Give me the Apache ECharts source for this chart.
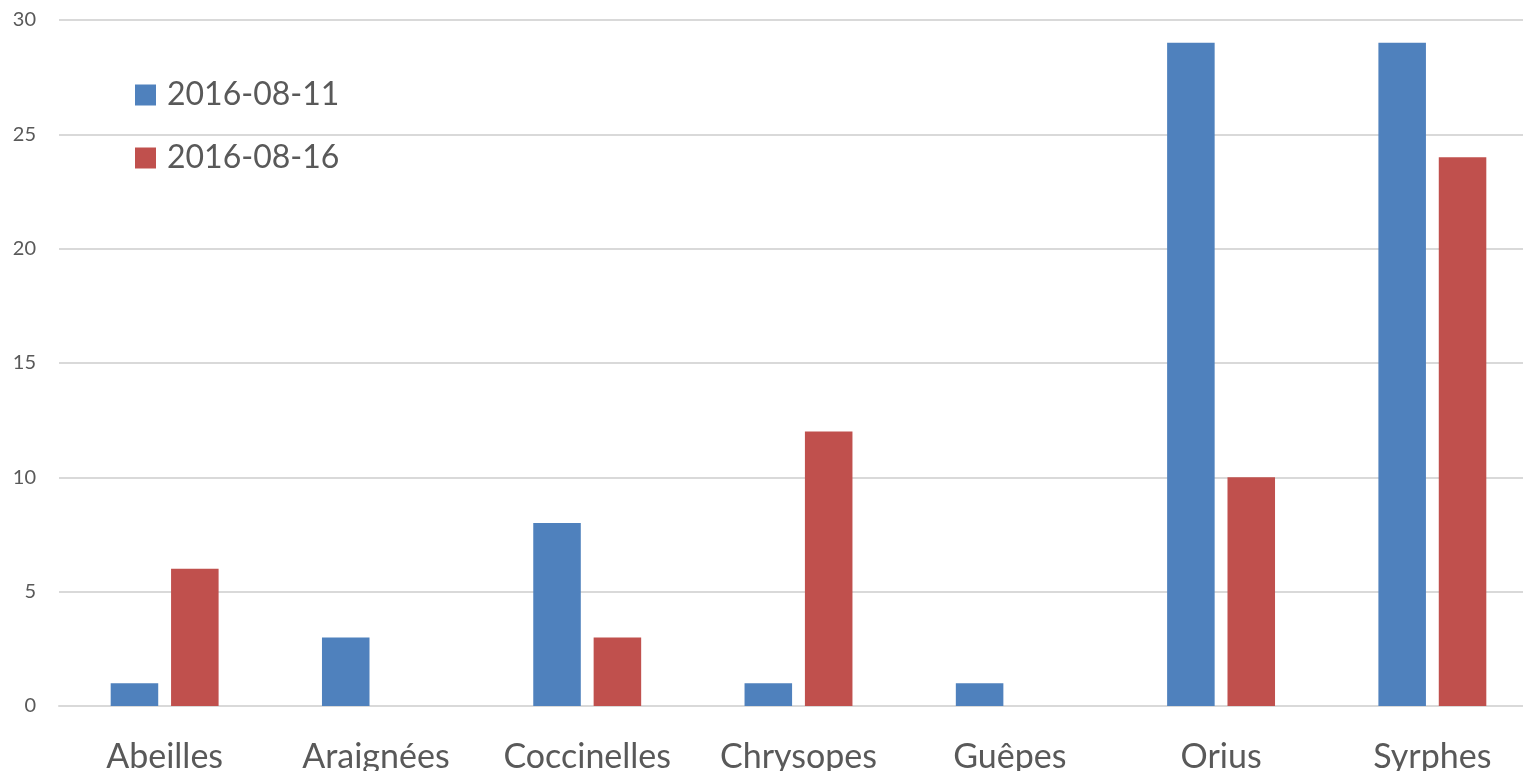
<!DOCTYPE html>
<html>
<head>
<meta charset="utf-8">
<script src="https://cdn.jsdelivr.net/npm/echarts@6/dist/echarts.min.js"></script>
<style>
  html, body { margin: 0; padding: 0; background: #ffffff; }
  #chart { width: 1523px; height: 771px; }
</style>
</head>
<body>
<div id="chart"></div>
<script>
// Insect counts per group, two sampling dates
const categories = ['Abeilles', 'Araignées', 'Coccinelles', 'Chrysopes', 'Guêpes', 'Orius', 'Syrphes'];
const seriesNames = ['2016-08-11', '2016-08-16'];
const counts0811 = [1, 3, 8, 1, 1, 29, 29];
const counts0816 = [6, 0, 3, 12, 0, 10, 24];

const FONT = 'Lato, "Open Sans", sans-serif';
const TEXT = '#595959';
const GRID = '#d9d9d9';

const chart = echarts.init(document.getElementById('chart'), null, { renderer: 'canvas' });
chart.setOption({
  animation: false,
  backgroundColor: '#ffffff',
  textStyle: { fontFamily: FONT, color: TEXT },
  legend: {
    orient: 'vertical',
    left: 135,
    top: 74,
    padding: 0,
    itemWidth: 21,
    itemHeight: 21,
    itemGap: 21,
    icon: 'rect',
    textStyle: { fontFamily: FONT, fontSize: 32, color: TEXT, lineHeight: 42, padding: [0, 0, 0, 6] },
    data: seriesNames
  },
  // plot area runs slightly past the right edge of the canvas
  grid: { left: 59, right: -15, top: 20, bottom: 65, outerBoundsMode: 'none', containLabel: false },
  xAxis: {
    type: 'category',
    data: categories,
    axisLine: { show: true, lineStyle: { color: GRID, width: 2 } },
    axisTick: { show: false },
    axisLabel: { fontFamily: FONT, fontSize: 34, color: TEXT, margin: 34, interval: 0 }
  },
  yAxis: {
    type: 'value',
    min: 0,
    max: 30,
    interval: 5,
    axisLine: { show: false },
    axisTick: { show: false },
    splitLine: { lineStyle: { color: GRID, width: 2 } },
    axisLabel: { fontFamily: FONT, fontSize: 20, color: TEXT, margin: 23 }
  },
  series: [
    {
      name: seriesNames[0],
      type: 'bar',
      data: counts0811,
      barWidth: '22.5%',
      barGap: '27%',
      itemStyle: { color: '#4f81bd' }
    },
    {
      name: seriesNames[1],
      type: 'bar',
      data: counts0816,
      barWidth: '22.5%',
      barGap: '27%',
      itemStyle: { color: '#c0504d' }
    }
  ]
});
</script>
</body>
</html>
